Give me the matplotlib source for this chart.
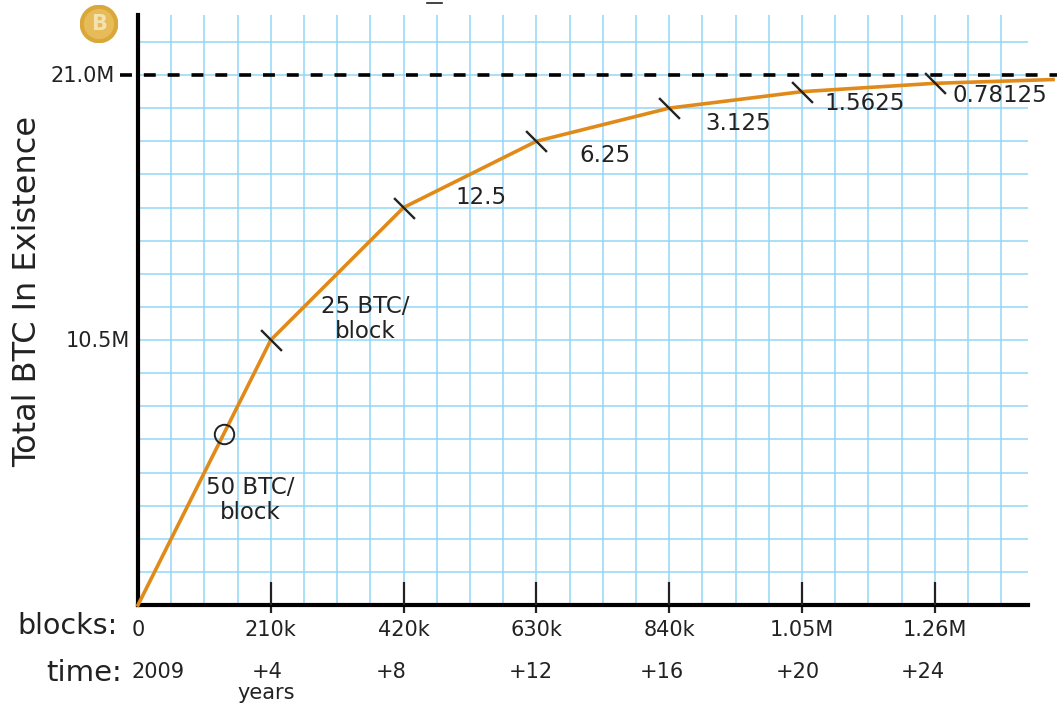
import matplotlib
matplotlib.use("Agg")
import matplotlib.pyplot as plt

W, H = 1057, 704

# halving points of the supply curve
blocks = [0, 210000, 420000, 630000, 840000, 1050000, 1260000, 1447000]
supply = [0, 10.5e6, 15.75e6, 18.375e6, 19.6875e6, 20.34e6, 20.67e6, 20.82e6]
halving_blocks = [210000, 420000, 630000, 840000, 1050000, 1260000]
halving_supply = [10.5e6, 15.75e6, 18.375e6, 19.6875e6, 20.34e6, 20.67e6]
now_block = [136000]
now_supply = [6.78e6]
cap = 21.0e6

block_ticks = [0, 210000, 420000, 630000, 840000, 1050000, 1260000]
block_labels = ["0", "210k", "420k", "630k", "840k", "1.05M", "1.26M"]
supply_ticks = [10.5e6, 21.0e6]
supply_labels = ["10.5M", "21.0M"]
supply_label_gap = [8, 23]
time_labels = ["2009", "+4", "+8", "+12", "+16", "+20", "+24"]
time_x = [158, 267, 391, 531, 662, 798, 923]
reward_labels = ["50 BTC/\nblock", "25 BTC/\nblock", "12.5", "6.25", "3.125", "1.5625", "0.78125"]
reward_x = [250, 365, 481, 605, 738, 865, 1000]
reward_y = [500, 319, 197, 155, 124, 104, 95]

ink = "#222222"
grid_blue = "#93d6f7"
orange = "#e08a1a"


def px(x, y):
    return x / W, 1 - y / H


fig = plt.figure(figsize=(W / 100, H / 100), dpi=100)
ax = fig.add_axes([138 / W, 1 - 605 / H, (1028 - 138) / W, 590 / H])
ax.set_xlim(0, 890 * 210000 / 132.8)
ax.set_ylim(0, 590 * 21.0e6 / 530)

# graph paper
for i in range(1, 27):
    ax.axvline(i * 52500, color=grid_blue, lw=1.1, zorder=1)
for i in range(1, 18):
    ax.axhline(i * 1.3125e6, color=grid_blue, lw=1.1, zorder=1)

for s in ["top", "right"]:
    ax.spines[s].set_visible(False)
ax.spines["left"].set_linewidth(3)
ax.spines["bottom"].set_linewidth(3)
ax.set_xticks(block_ticks, block_labels)
ax.set_yticks([])
ax.tick_params(axis="x", length=6, width=1.6, color=ink, labelcolor=ink, labelsize=15, pad=5)
ax.xaxis.get_major_ticks()[0].tick1line.set_visible(False)

# the two supply labels do not share a right edge
for value, label, gap in zip(supply_ticks, supply_labels, supply_label_gap):
    ax.annotate(label, xy=(0, value), xycoords=ax.get_yaxis_transform(), xytext=(-gap * 0.72, -0.7),
                textcoords="offset points", ha="right", va="center", fontsize=15, color=ink)

# inner part of the block ticks
ax.vlines(halving_blocks, 0, 0.9e6, color=ink, lw=1.6, zorder=3)

# 21M cap runs out of the axes on both sides
ax.plot([-18 / 132.8 * 210000, 919 / 132.8 * 210000], [cap, cap], color="black", lw=2.6,
        dashes=(3.3, 3.3), clip_on=False, zorder=3)
ax.plot(blocks, supply, color=orange, lw=2.6, clip_on=False, zorder=4, solid_joinstyle="round")
ax.plot(halving_blocks, halving_supply, ls="none", marker=[(-1, 1), (1, -1)], ms=15, mew=1.7,
        mec=ink, clip_on=False, zorder=5)
ax.plot(now_block, now_supply, ls="none", marker="o", ms=14, mfc="none", mew=1.4, mec=ink, zorder=5)

for label, x, y in zip(reward_labels, reward_x, reward_y):
    fig.text(*px(x, y), label, ha="center", va="center", fontsize=16.5, color=ink, linespacing=1.1, zorder=6)
for label, x in zip(time_labels, time_x):
    fig.text(*px(x, 672), label, ha="center", va="center", fontsize=15, color=ink)
fig.text(*px(266, 693), "years", ha="center", va="center", fontsize=15, color=ink)
fig.text(*px(118, 626), "blocks:", ha="right", va="center", fontsize=20.5, color=ink)
fig.text(*px(122, 673), "time:", ha="right", va="center", fontsize=21, color=ink)
fig.text(*px(28, 291), "Total BTC In Existence", rotation=90, ha="center", va="center", fontsize=23, color=ink)

# coin in the corner
coin = fig.add_axes([80 / W, 1 - 43 / H, 38 / W, 38 / H])
coin.set_xlim(-1, 1)
coin.set_ylim(-1, 1)
coin.axis("off")
coin.add_patch(plt.Circle((0, 0), 0.98, color="#d9a73a"))
coin.add_patch(plt.Circle((0, 0), 0.76, color="#e6bb58"))
coin.text(0, -0.02, "B", ha="center", va="center", fontsize=15, fontweight="bold", color="#f3e2b0")

# stray mark on the top edge of the picture
fig.add_artist(plt.Line2D([427 / W, 442 / W], [1 - 3 / H, 1 - 3 / H], color=ink, lw=1.2))

fig.savefig("out.png", dpi=100)
